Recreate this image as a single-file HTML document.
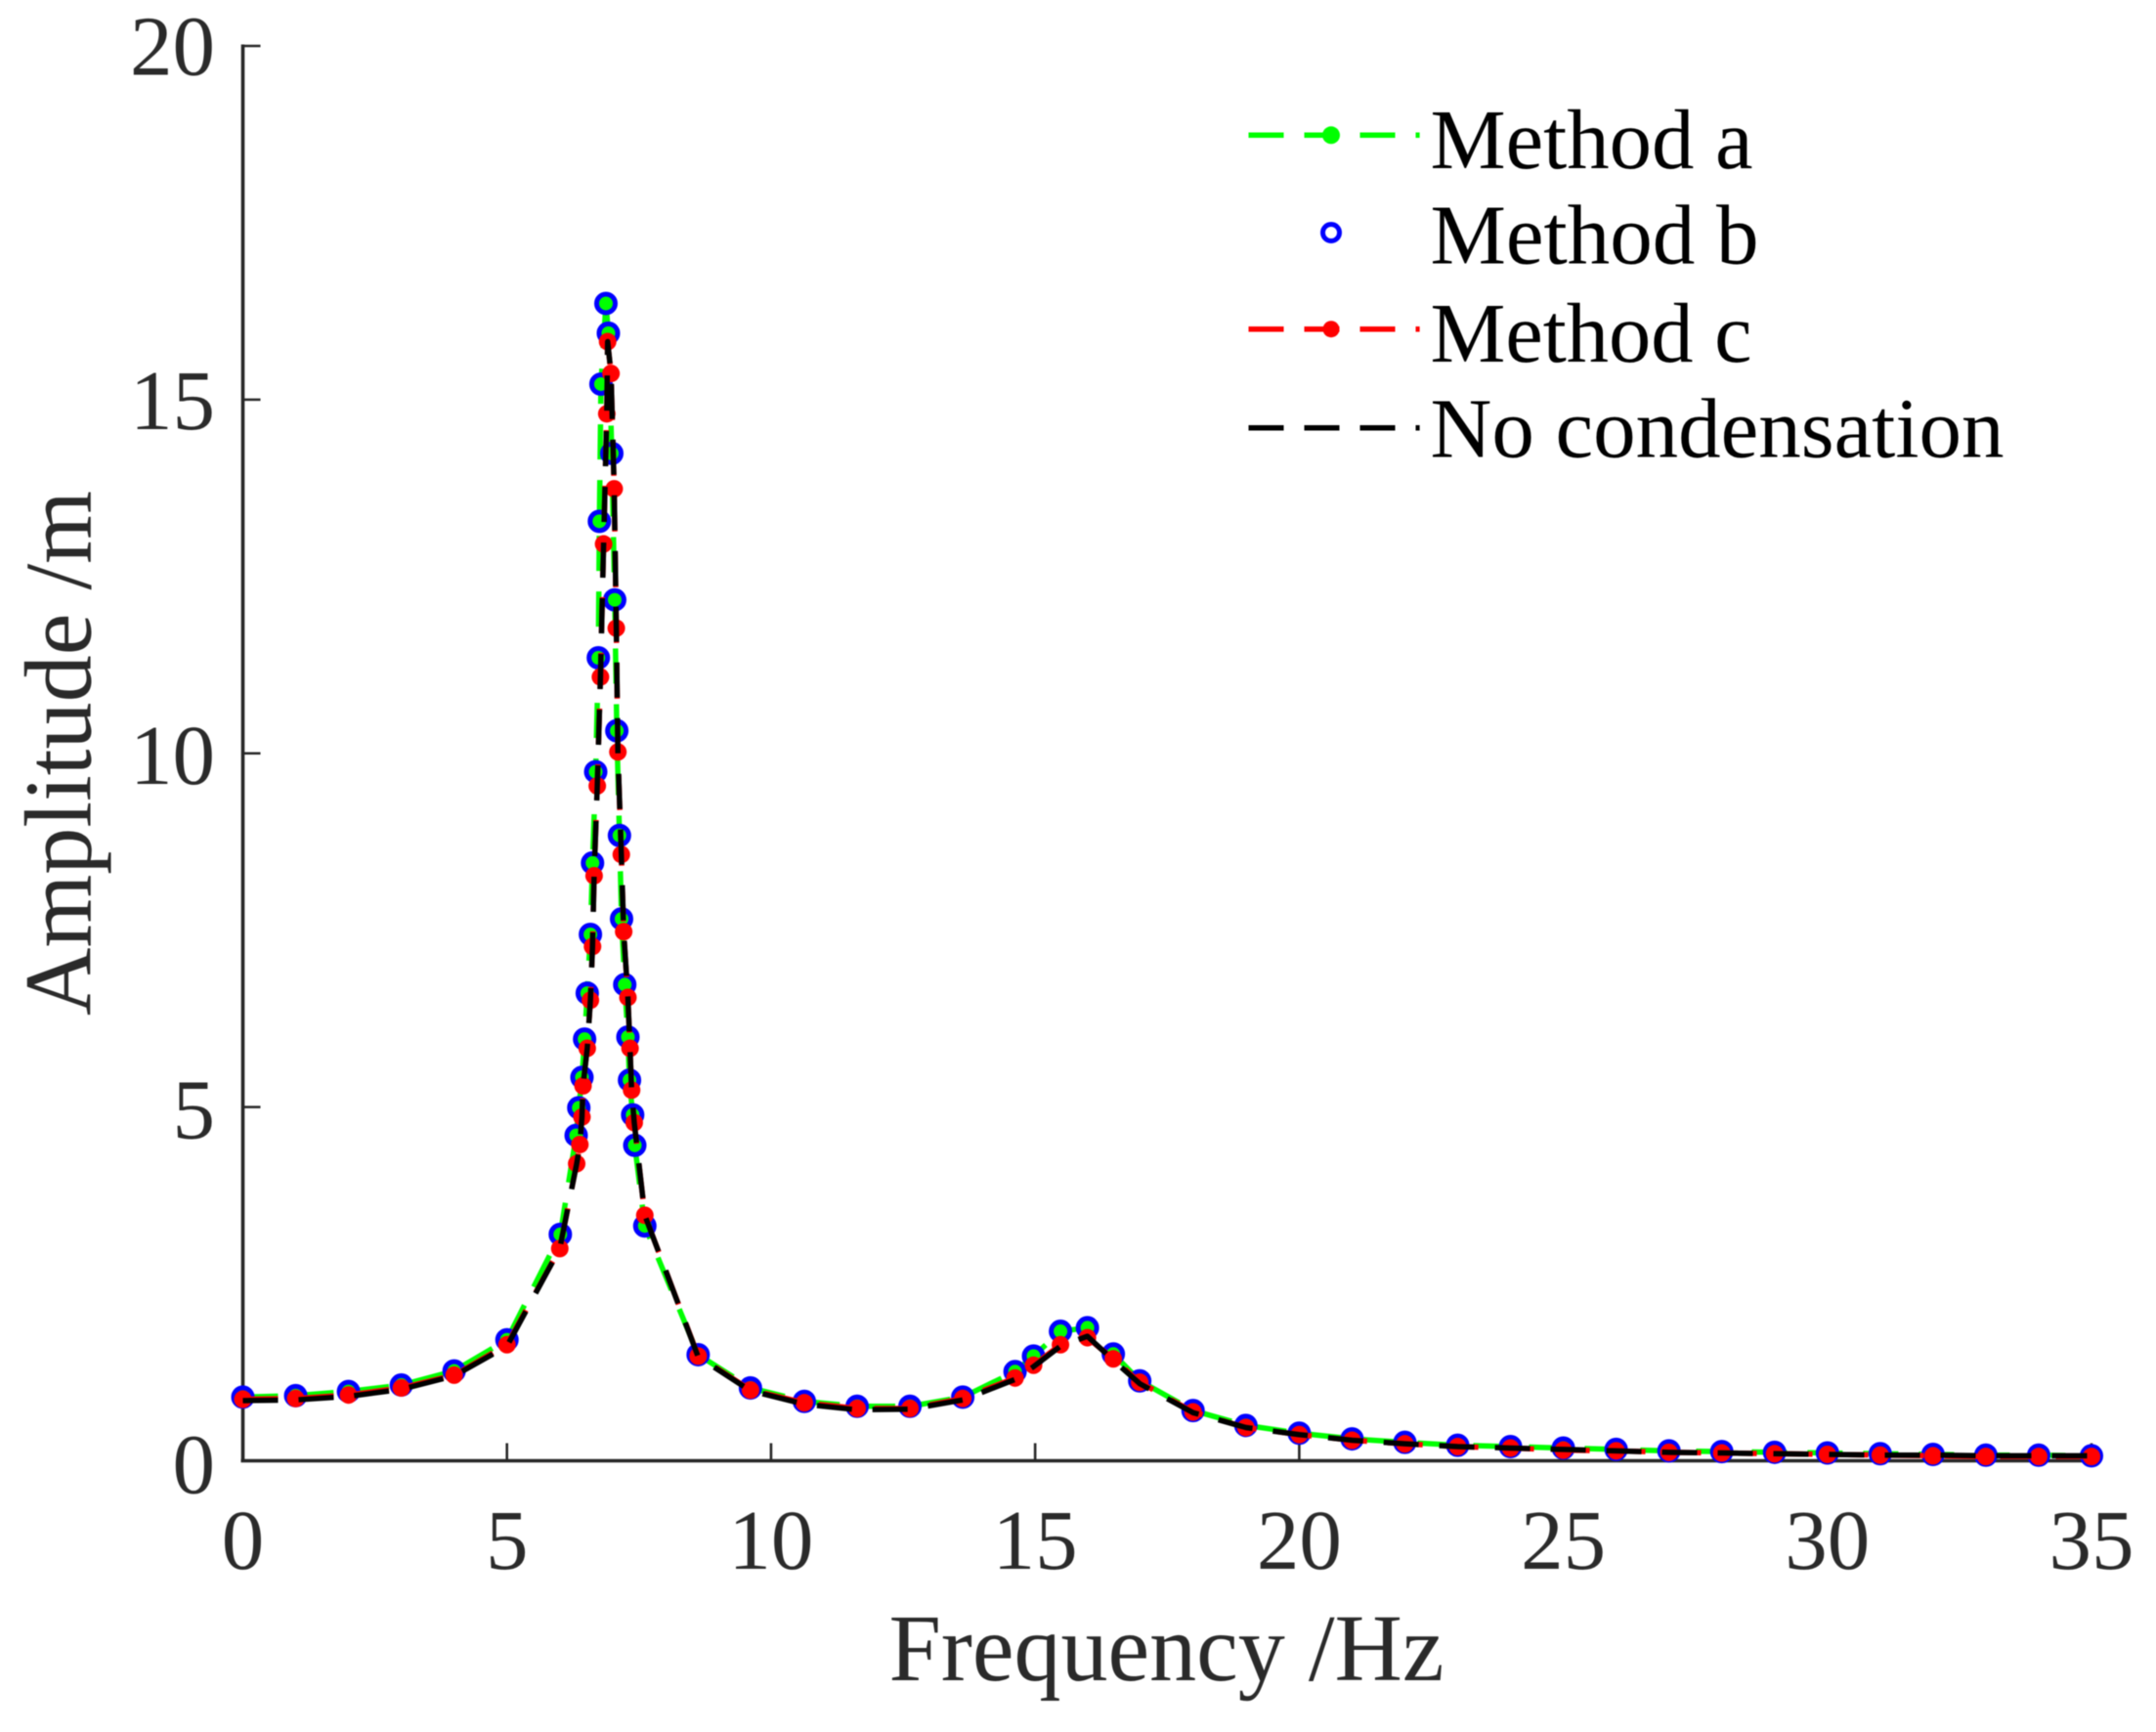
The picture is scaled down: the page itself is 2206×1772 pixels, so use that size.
<!DOCTYPE html>
<html lang="en">
<head>
<meta charset="utf-8">
<title>Amplitude vs Frequency</title>
<style>
html,body{margin:0;padding:0;background:#fff;}
svg{display:block;filter:blur(0.6px);}
text{font-family:"Liberation Serif",serif;}
</style>
</head>
<body>
<svg id="chart" xmlns="http://www.w3.org/2000/svg" width="2206" height="1772" viewBox="0 0 2206 1772">
  <rect x="0" y="0" width="2206" height="1772" fill="#ffffff"/>
  <g id="axes"></g>
  <g id="series"></g>
  <text x="1193.5" y="1719" font-size="97" fill="#2a2a2a" text-anchor="middle" textLength="568" lengthAdjust="spacingAndGlyphs">Frequency /Hz</text>
  <text transform="translate(92.7,770.5) rotate(-90)" x="0" y="0" font-size="97" fill="#2a2a2a" text-anchor="middle" textLength="537" lengthAdjust="spacingAndGlyphs">Amplitude /m</text>
  <g id="legend">
    <g>
      <line x1="1277.5" y1="138.3" x2="1452.6" y2="138.3" stroke="#00ff00" stroke-width="5.5" stroke-dasharray="36 21"/>
      <circle cx="1362" cy="138.3" r="9" fill="#00ff00"/>
      <text x="1463.5" y="172" font-size="87" fill="#000" textLength="330" lengthAdjust="spacingAndGlyphs">Method a</text>
    </g>
    <g>
      <circle cx="1362" cy="238" r="8.5" fill="none" stroke="#0000ff" stroke-width="5"/>
      <text x="1463.5" y="269.3" font-size="87" fill="#000" textLength="336" lengthAdjust="spacingAndGlyphs">Method b</text>
    </g>
    <g>
      <line x1="1277.5" y1="336.7" x2="1452.6" y2="336.7" stroke="#ff0000" stroke-width="5.5" stroke-dasharray="36 21"/>
      <circle cx="1362" cy="336.7" r="8.5" fill="#ff0000"/>
      <text x="1463.5" y="370" font-size="87" fill="#000" textLength="329" lengthAdjust="spacingAndGlyphs">Method c</text>
    </g>
    <g>
      <line x1="1277.5" y1="437.7" x2="1452.6" y2="437.7" stroke="#000000" stroke-width="5.5" stroke-dasharray="36 21"/>
      <text x="1463.5" y="467.7" font-size="87" fill="#000" textLength="587" lengthAdjust="spacingAndGlyphs">No condensation</text>
    </g>
  </g>
</svg>
<script>
var xTicks = [0, 5, 10, 15, 20, 25, 30, 35];
var yTicks = [0, 5, 10, 15, 20];

var freqA = [0,1,2,3,4,5,6.01,6.31,6.36,6.42,6.47,6.52,6.58,6.62,6.68,6.73,6.75,6.78,6.874,6.92,6.985,7.04,7.08,7.13,7.17,7.23,7.29,7.32,7.38,7.42,7.61,8.62,9.61,10.63,11.63,12.63,13.63,14.62,14.97,15.48,15.99,16.48,16.98,17.99,18.99,20,21,22,23,24,25,26,27,28,29,30,31,32,33,34,35];
var valuesA = [0.90,0.92,0.98,1.07,1.27,1.71,3.20,4.60,4.99,5.42,5.96,6.61,7.44,8.45,9.74,11.35,13.28,15.22,16.36,15.94,14.24,12.17,10.32,8.84,7.66,6.73,5.99,5.38,4.89,4.46,3.32,1.50,1.03,0.84,0.77,0.77,0.90,1.26,1.48,1.83,1.88,1.51,1.13,0.71,0.50,0.39,0.31,0.26,0.22,0.20,0.18,0.16,0.14,0.13,0.12,0.11,0.10,0.09,0.08,0.08,0.07];

var freqB = [0,1,2,3,4,5,6.01,6.31,6.36,6.42,6.47,6.52,6.58,6.62,6.68,6.73,6.75,6.78,6.874,6.92,6.985,7.04,7.08,7.13,7.17,7.23,7.29,7.32,7.38,7.42,7.61,8.62,9.61,10.63,11.63,12.63,13.63,14.62,14.97,15.48,15.99,16.48,16.98,17.99,18.99,20,21,22,23,24,25,26,27,28,29,30,31,32,33,34,35];
var valuesB = [0.90,0.92,0.98,1.07,1.27,1.71,3.20,4.60,4.99,5.42,5.96,6.61,7.44,8.45,9.74,11.35,13.28,15.22,16.36,15.94,14.24,12.17,10.32,8.84,7.66,6.73,5.99,5.38,4.89,4.46,3.32,1.50,1.03,0.84,0.77,0.77,0.90,1.26,1.48,1.83,1.88,1.51,1.13,0.71,0.50,0.39,0.31,0.26,0.22,0.20,0.18,0.16,0.14,0.13,0.12,0.11,0.10,0.09,0.08,0.08,0.07];

var freqC = [0,1,2,3,4,5,6.0,6.32,6.38,6.42,6.44,6.52,6.58,6.62,6.65,6.71,6.77,6.83,6.89,6.906,6.97,7.03,7.07,7.10,7.165,7.21,7.29,7.33,7.36,7.41,7.61,8.62,9.61,10.63,11.63,12.63,13.63,14.62,14.97,15.48,15.99,16.48,16.98,17.99,18.99,20,21,22,23,24,25,26,27,28,29,30,31,32,33,34,35];
var valuesC = [0.87,0.88,0.93,1.03,1.21,1.64,3.00,4.20,4.47,4.86,5.30,5.83,6.51,7.27,8.27,9.54,11.08,12.96,14.80,15.82,15.37,13.74,11.77,10.02,8.57,7.48,6.55,5.83,5.24,4.78,3.47,1.48,1.00,0.82,0.74,0.74,0.88,1.17,1.35,1.64,1.74,1.44,1.11,0.69,0.47,0.37,0.29,0.24,0.20,0.18,0.15,0.14,0.12,0.11,0.10,0.09,0.08,0.07,0.06,0.06,0.06];

var freqD = [0,1,2,3,4,5,6.0,6.32,6.38,6.42,6.44,6.52,6.58,6.62,6.65,6.71,6.77,6.83,6.89,6.906,6.97,7.03,7.07,7.10,7.165,7.21,7.29,7.33,7.36,7.41,7.61,8.62,9.61,10.63,11.63,12.63,13.63,14.62,14.97,15.48,15.99,16.48,16.98,17.99,18.99,20,21,22,23,24,25,26,27,28,29,30,31,32,33,34,35];
var valuesD = [0.85,0.86,0.91,1.01,1.20,1.62,3.00,4.20,4.47,4.86,5.30,5.83,6.51,7.27,8.27,9.54,11.08,12.96,14.80,15.82,15.37,13.74,11.77,10.02,8.57,7.48,6.55,5.83,5.24,4.78,3.47,1.47,0.99,0.80,0.72,0.73,0.86,1.15,1.33,1.62,1.76,1.42,1.09,0.68,0.47,0.37,0.29,0.24,0.20,0.18,0.16,0.14,0.12,0.11,0.10,0.09,0.08,0.08,0.07,0.07,0.07];

var SVG_NS = 'http://www.w3.org/2000/svg';
function xScale(f) { return 248.5 + (f / 35) * 1891.5; }
function yScale(v) { return 1494.5 - (v / 20) * 1447.5; }

function make(tag, parent, attrs, txt) {
  var el = document.createElementNS(SVG_NS, tag);
  for (var k in attrs) { el.setAttribute(k, attrs[k]); }
  if (txt !== undefined) { el.textContent = txt; }
  parent.appendChild(el);
  return el;
}

var axes = document.getElementById('axes');
var axisColor = '#262626';

var xAxisLine = make('line', axes, {x1: xScale(0) - 2, y1: yScale(0), x2: xScale(35), y2: yScale(0), stroke: axisColor, 'stroke-width': 3.6});



var yAxisLine = make('line', axes, {x1: xScale(0), y1: yScale(20) - 1.5, x2: xScale(0), y2: yScale(0) + 1.5, stroke: axisColor, 'stroke-width': 3.6});



xTicks.forEach(function (t) {
  var tick = make('line', axes, {x1: xScale(t), y1: yScale(0), x2: xScale(t), y2: yScale(0) - 18, stroke: axisColor, 'stroke-width': 2.6});
  
  
  var label = make('text', axes, {x: xScale(t), y: 1605, 'font-size': 87, fill: '#2a2a2a', 'text-anchor': 'middle'}, String(t));
  
  
});

yTicks.forEach(function (t) {
  var tick = make('line', axes, {x1: xScale(0), y1: yScale(t), x2: xScale(0) + 18, y2: yScale(t), stroke: axisColor, 'stroke-width': 2.6});
  
  
  var label = make('text', axes, {x: 220, y: yScale(t) + 33 - t * 0.18, 'font-size': 87, fill: '#2a2a2a', 'text-anchor': 'end'}, String(t));
  
  
});

var seriesRoot = document.getElementById('series');

function pathFor(fs, vs) {
  return fs.map(function (f, i) {
    return (i ? 'L' : 'M') + xScale(f).toFixed(2) + ' ' + yScale(vs[i]).toFixed(2);
  }).join(' ');
}

function drawLine(fs, vs, color, name) {
  var p = make('path', seriesRoot, {d: pathFor(fs, vs), fill: 'none', stroke: color, 'stroke-width': 5.5, 'stroke-dasharray': '36 21', 'stroke-linejoin': 'round'});
  
  
}

function drawPoints(fs, vs, attrs, name) {
  var g = make('g', seriesRoot, {});
  
  
  fs.forEach(function (f, i) {
    var c = make('circle', g, {cx: xScale(f), cy: yScale(vs[i]), r: attrs.r, fill: attrs.fill, stroke: attrs.stroke, 'stroke-width': attrs.sw});
    
    
  });
}

drawLine(freqA, valuesA, '#00ff00', 'method-a-line');
drawPoints(freqA, valuesA, {r: 8, fill: '#00ff00', stroke: 'none', sw: 0}, 'method-a-markers');
drawPoints(freqB, valuesB, {r: 9.5, fill: 'none', stroke: '#0000ff', sw: 5}, 'method-b-markers');
drawLine(freqC, valuesC, '#ff0000', 'method-c-line');
drawPoints(freqC, valuesC, {r: 9, fill: '#ff0000', stroke: 'none', sw: 0}, 'method-c-markers');
drawLine(freqD, valuesD, '#000000', 'no-condensation-line');
</script>
</body>
</html>
